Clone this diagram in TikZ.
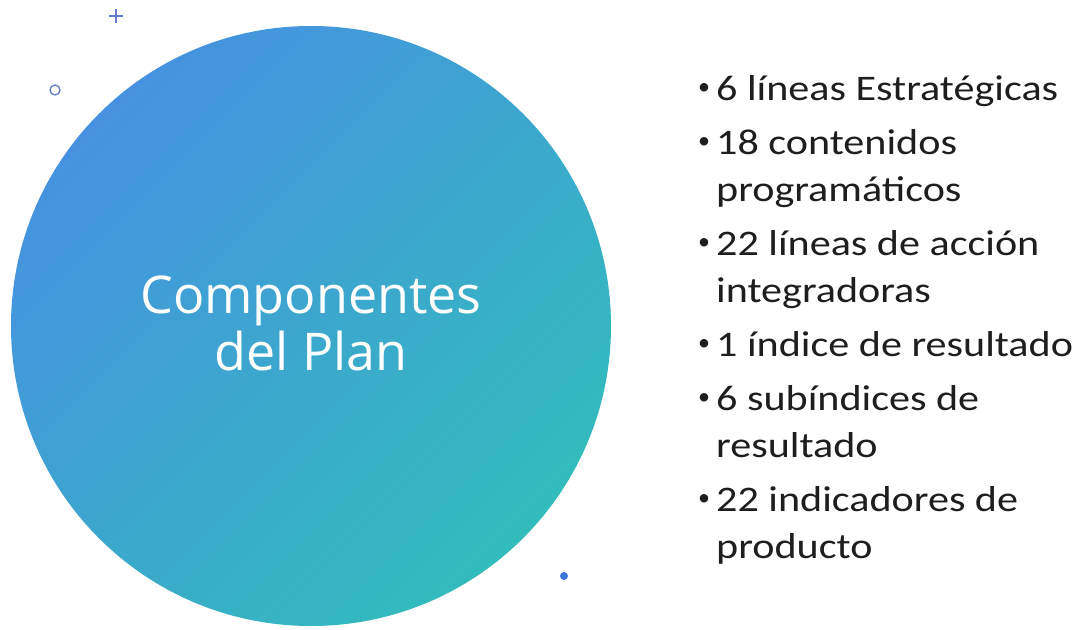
\documentclass[tikz,border=0pt]{standalone}
\usepackage{graphicx}
\usepackage{fontspec}
\setmainfont{Carlito}
\newfontfamily\circlefont{Open Sans}
\definecolor{gradA}{RGB}{70,146,224}
\definecolor{gradB}{RGB}{50,188,188}
\definecolor{deco}{RGB}{100,120,205}
\definecolor{dotblue}{RGB}{60,120,220}
\definecolor{txt}{RGB}{30,30,30}
\newcommand{\wide}[1]{\scalebox{1.2}[1]{#1}}
\tikzset{
  item/.style={anchor=base west, inner sep=0pt, text=txt, font=\fontsize{36}{42}\selectfont},
  bul/.style={anchor=center, inner sep=0pt, text=txt, font=\fontsize{24}{28}\selectfont},
  title/.style={align=center, text=white, inner sep=0pt, font=\circlefont\fontsize{52}{57}\selectfont},
}
\begin{document}
\begin{tikzpicture}[x=1pt,y=-1pt]
\useasboundingbox (0,0) rectangle (1081,629);
\fill[white] (0,0) rectangle (1081,629);
% main circle
\shade[top color=gradA, bottom color=gradB, shading angle=45] (311,326) circle[radius=300];
\node[title] (t) at (311,323) {Componentes\\del Plan};
% decorations
\draw[deco, line width=1.3pt] (109,16) -- (123,16) (116,9) -- (116,23);
\draw[deco, line width=1.3pt] (55,90) circle[radius=5];
\fill[dotblue] (564,576) circle[radius=4];
% list
\node[bul] (b1) at (704,89) {•};
\node[item] (l1) at (716,100) {\scalebox{1.17}[1]{6 líneas Estratégicas}};
\node[bul] (b2) at (704,143) {•};
\node[item] (l2) at (716,154) {\scalebox{1.17}[1]{18 contenidos}};
\node[item] (l2b) at (716,201) {\scalebox{1.17}[1]{programáticos}};
\node[bul] (b3) at (704,244) {•};
\node[item] (l3) at (716,255) {\scalebox{1.17}[1]{22 líneas de acción}};
\node[item] (l3b) at (716,302) {\scalebox{1.17}[1]{integradoras}};
\node[bul] (b4) at (704,345) {•};
\node[item] (l4) at (716,356) {\scalebox{1.17}[1]{1 índice de resultado}};
\node[bul] (b5) at (704,399) {•};
\node[item] (l5) at (716,410) {\scalebox{1.17}[1]{6 subíndices de}};
\node[item] (l5b) at (716,457) {\scalebox{1.17}[1]{resultado}};
\node[bul] (b6) at (704,500) {•};
\node[item] (l6) at (716,511) {\scalebox{1.17}[1]{22 indicadores de}};
\node[item] (l6b) at (716,558) {\scalebox{1.17}[1]{producto}};
\end{tikzpicture}
\end{document}
